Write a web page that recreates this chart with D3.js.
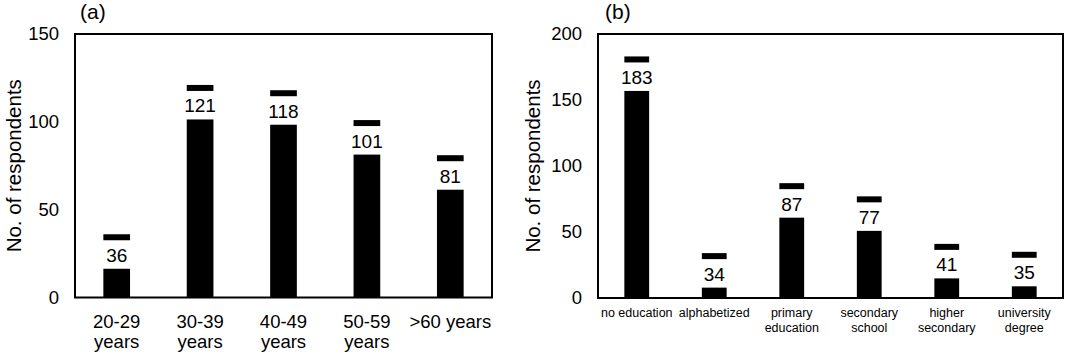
<!DOCTYPE html>
<html>
<head>
<meta charset="utf-8">
<script src="https://cdn.jsdelivr.net/npm/d3@7"></script>
<style>
  html, body { margin: 0; padding: 0; background: #fff; }
  svg { display: block; font-family: "Liberation Sans", Arial, sans-serif; }
</style>
</head>
<body>
<svg id="chart" width="1068" height="355"></svg>
<script>
// ---- data ----
const ageCategories = ["20-29 years", "30-39 years", "40-49 years", "50-59 years", ">60 years"];
const ageLabelLines = [["20-29", "years"], ["30-39", "years"], ["40-49", "years"], ["50-59", "years"], [">60 years"]];
const ageValues = [36, 121, 118, 101, 81];
const ageTicks = [0, 50, 100, 150];

const eduCategories = ["no education", "alphabetized", "primary education", "secondary school", "higher secondary", "university degree"];
const eduLabelLines = [["no education"], ["alphabetized"], ["primary", "education"], ["secondary", "school"], ["higher", "secondary"], ["university", "degree"]];
const eduValues = [183, 34, 87, 77, 41, 35];
const eduTicks = [0, 50, 100, 150, 200];

const yTitle = "No. of respondents";

const svg = d3.select("#chart");

function panel(cfg) {
  const g = svg.append("g");
  const x = d3.scaleBand().domain(cfg.categories).range([cfg.x0, cfg.x1])
    .paddingInner(0.68).paddingOuter(0.34);
  const y = d3.scaleLinear().domain([0, cfg.ymax]).range([cfg.y0, cfg.y1]);

  // y axis labels
  const ya = g.append("g").attr("transform", `translate(${cfg.x0},0)`)
    .call(d3.axisLeft(y).tickValues(cfg.ticks).tickSize(0).tickPadding(16));
  ya.select(".domain").remove();
  ya.selectAll("text").attr("font-size", "18.5px").attr("fill", "#000")
    .attr("font-family", "'Liberation Sans', Arial, sans-serif");

  // x axis labels
  const xa = g.append("g").attr("transform", `translate(0,${cfg.y0})`)
    .call(d3.axisBottom(x).tickSize(0));
  xa.select(".domain").remove();
  xa.selectAll(".tick text").each(function (d, i) {
    const t = d3.select(this);
    t.text(null).attr("y", 0).attr("dy", null)
      .attr("font-size", cfg.xFont + "px").attr("fill", "#000")
      .attr("font-family", "'Liberation Sans', Arial, sans-serif");
    cfg.lines[i].forEach((ln, k) => {
      t.append("tspan").attr("x", 0).attr("y", cfg.xBase + k * cfg.xLine).text(ln);
    });
  });

  // bars
  g.append("g").selectAll("rect").data(cfg.values).join("rect")
    .attr("x", (d, i) => x(cfg.categories[i]))
    .attr("width", x.bandwidth())
    .attr("y", d => y(d))
    .attr("height", d => y(0) - y(d))
    .attr("fill", "#000");

  // label boxes
  g.append("g").selectAll("rect").data(cfg.values).join("rect")
    .attr("x", (d, i) => x(cfg.categories[i]) - 2)
    .attr("width", x.bandwidth() + 4)
    .attr("y", d => y(d) + 6)
    .attr("height", 28.5)
    .attr("fill", "#fff");

  g.append("g").selectAll("text").data(cfg.values).join("text")
    .attr("x", (d, i) => x(cfg.categories[i]) + x.bandwidth() / 2)
    .attr("y", d => y(d) + 27.5)
    .attr("text-anchor", "middle")
    .attr("font-size", "19px")
    .attr("fill", "#000")
    .text(d => d);

  // frame
  g.append("rect")
    .attr("x", cfg.x0).attr("y", cfg.y1)
    .attr("width", cfg.x1 - cfg.x0).attr("height", cfg.y0 - cfg.y1)
    .attr("fill", "none").attr("stroke", "#000").attr("stroke-width", 2);

  // y title
  g.append("text")
    .attr("transform", `translate(${cfg.titleX},${(cfg.y0 + cfg.y1) / 2}) rotate(-90)`)
    .attr("text-anchor", "middle")
    .attr("font-size", "20.5px")
    .attr("fill", "#000")
    .text(yTitle);

  // panel label
  g.append("text")
    .attr("x", cfg.tagX).attr("y", 18.5)
    .attr("font-size", "21px").attr("fill", "#000")
    .text(cfg.tag);
}

panel({
  categories: ageCategories, lines: ageLabelLines, values: ageValues, ticks: ageTicks,
  ymax: 150, x0: 75, x1: 492, y0: 297.5, y1: 34,
  xFont: 18.5, xBase: 30.5, xLine: 20, titleX: 20.5, tagX: 80, tag: "(a)"
});

panel({
  categories: eduCategories, lines: eduLabelLines, values: eduValues, ticks: eduTicks,
  ymax: 200, x0: 598, x1: 1063, y0: 298, y1: 34,
  xFont: 12.5, xBase: 19, xLine: 15, titleX: 540, tagX: 605, tag: "(b)"
});
</script>
</body>
</html>
